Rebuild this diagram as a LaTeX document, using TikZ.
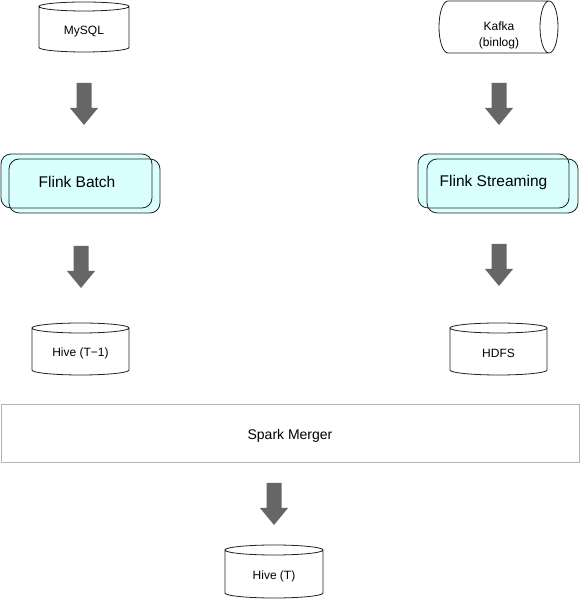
\documentclass[tikz,border=0pt]{standalone}
\usepackage{fontspec}
\setmainfont{Liberation Sans}
\usetikzlibrary{calc}
\definecolor{flinkfill}{HTML}{D9FFFF}
\definecolor{arrowgray}{HTML}{666666}
\definecolor{mergeline}{HTML}{B3B3B3}
\definecolor{outline}{HTML}{222222}
\tikzset{
  cylline/.style={draw=outline, line width=0.8pt, fill=white},
  flinkline/.style={draw=outline, line width=0.8pt, rounded corners=10pt},
  flinkbg/.style={fill=flinkfill, rounded corners=10pt},
  smalltext/.style={font=\fontsize{12}{16}\selectfont, inner sep=0pt, align=center},
  bigtext/.style={font=\fontsize{15.5}{18}\selectfont, inner sep=0pt},
  mergetext/.style={font=\fontsize{14}{17}\selectfont, inner sep=0pt},
  arrowshape/.style={fill=arrowgray}
}
\newcommand{\blockarrow}[2]{%
  \fill[arrowshape] let \p1=(#1), \p2=(#2) in
   (\x1-7.5pt,\y1) -- (\x1+7.5pt,\y1) -- (\x1+7.5pt,\y2+17pt) -- (\x1+14pt,\y2+17pt)
   -- (\x2,\y2) -- (\x1-14pt,\y2+17pt) -- (\x1-7.5pt,\y2+17pt) -- cycle;}
% vertical cylinder: cx, top, bottom, half width, ry
\newcommand{\vcyl}[5]{%
  \draw[cylline] (#1-#4,#2-#5) -- (#1-#4,#3+#5)
    arc[start angle=180, end angle=360, x radius=#4, y radius=#5]
    -- (#1+#4,#2-#5)
    arc[start angle=0, end angle=180, x radius=#4, y radius=#5]
    arc[start angle=180, end angle=360, x radius=#4, y radius=#5];}
\begin{document}
\begin{tikzpicture}[x=1pt,y=1pt]
\useasboundingbox (0,0) rectangle (580,599);
\fill[white] (0,0) rectangle (580,599);

% MySQL
\vcyl{84}{597}{547}{45}{4.5}
\node[smalltext] (mysql) at (84,567) {MySQL};

% Kafka (horizontal cylinder)
\draw[cylline] (549,598) -- (448,598)
   arc[start angle=90, end angle=270, x radius=9, y radius=26]
   -- (549,546)
   arc[start angle=270, end angle=450, x radius=9, y radius=26]
   arc[start angle=90, end angle=270, x radius=9, y radius=26];
\node[smalltext] (kafka) at (499,564) {Kafka\\(binlog)};

% Flink Batch
\fill[flinkbg] (9,386) rectangle (160,440);
\fill[flinkbg] (1,391) rectangle (152,445);
\draw[flinkline] (9,386) rectangle (160,440);
\draw[flinkline] (1,391) rectangle (152,445);
\node[bigtext] (fbatch) at (77,417) {Flink Batch};

% Flink Streaming
\fill[flinkbg] (427,386) rectangle (578,440);
\fill[flinkbg] (418,391) rectangle (569,445);
\draw[flinkline] (427,386) rectangle (578,440);
\draw[flinkline] (418,391) rectangle (569,445);
\node[bigtext] (fstream) at (493.5,417) {Flink Streaming};

% Hive (T-1)
\vcyl{80.5}{276}{224}{48.5}{5}
\node[smalltext] (hivet1) at (80.5,246) {Hive (T\textminus1)};

% HDFS
\vcyl{498.5}{276}{224}{48.5}{5}
\node[smalltext] (hdfs) at (498.5,246) {HDFS};

% Spark Merger
\draw[draw=mergeline, line width=1pt] (1,136) rectangle (579,194);
\node[mergetext] (merger) at (290,163) {Spark Merger};

% Hive (T)
\vcyl{274}{54}{1}{49}{5}
\node[smalltext] (hivet) at (274,23) {Hive (T)};

% block arrows
\coordinate (a1s) at (84,516);  \coordinate (a1e) at (84,474);
\coordinate (a2s) at (499,516); \coordinate (a2e) at (499,474);
\coordinate (a3s) at (81,353);  \coordinate (a3e) at (81,311);
\coordinate (a4s) at (499,355); \coordinate (a4e) at (499,313);
\coordinate (a5s) at (274,116); \coordinate (a5e) at (274,74);
\blockarrow{a1s}{a1e}
\blockarrow{a2s}{a2e}
\blockarrow{a3s}{a3e}
\blockarrow{a4s}{a4e}
\blockarrow{a5s}{a5e}
\end{tikzpicture}
\end{document}
